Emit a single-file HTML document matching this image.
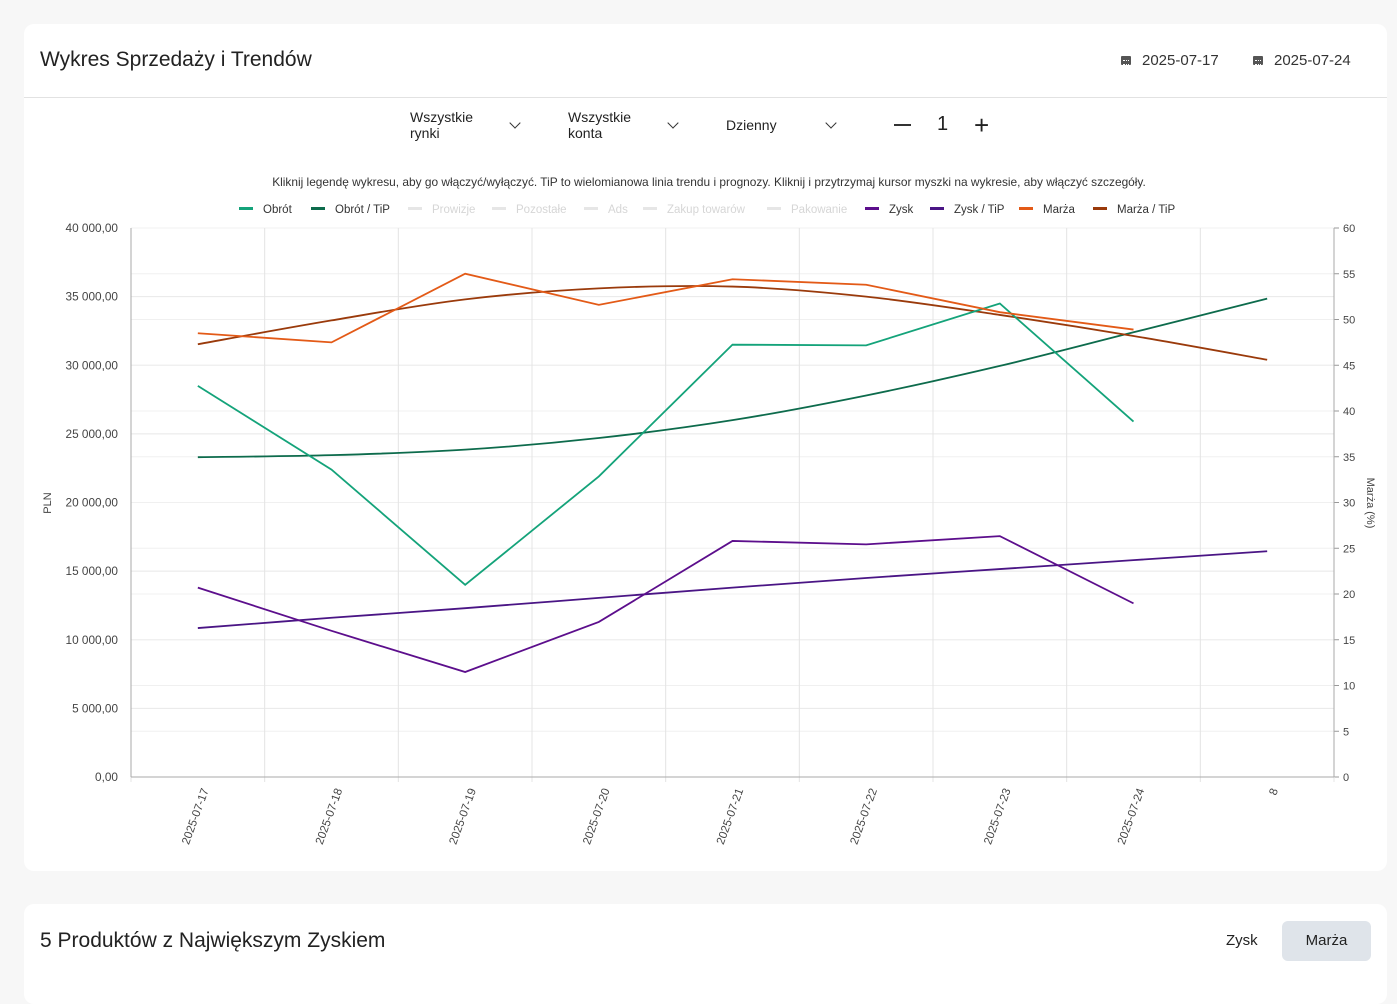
<!DOCTYPE html>
<html><head><meta charset="utf-8"><style>
body{margin:0;width:1397px;height:974px;background:#f7f7f7;font-family:"Liberation Sans",sans-serif;overflow:hidden;position:relative;color:#222}
.card{position:absolute;background:#fff;border-radius:10px}
.abs{position:absolute}
.ctl{position:absolute;font-size:14px;line-height:16px;color:#222}
.chev{position:absolute;width:7px;height:7px;border-right:1.8px solid #333;border-bottom:1.8px solid #333;transform:rotate(45deg)}
.cal{position:absolute;width:10px;height:9px;background:#555;border-radius:1px}
.cal:after{content:"";position:absolute;left:2px;top:4px;width:6px;height:3px;border-top:1px dotted #fff;border-bottom:1px dotted #fff}
</style></head><body>
<div class="card" style="left:24px;top:24px;width:1363px;height:847px">
  <div class="abs" style="left:16px;top:24px;font-size:21px">Wykres Sprzedaży i Trendów</div>
  <div class="cal" style="left:1097px;top:32px"></div>
  <div class="abs" style="left:1118px;top:28px;font-size:15px;color:#333">2025-07-17</div>
  <div class="cal" style="left:1229px;top:32px"></div>
  <div class="abs" style="left:1250px;top:28px;font-size:15px;color:#333">2025-07-24</div>
  <div class="abs" style="left:0;top:73px;width:1363px;height:1px;background:#e2e2e2"></div>
</div>
<div class="ctl" style="left:410px;top:109px">Wszystkie<br>rynki</div>
<div class="chev" style="left:511px;top:119px"></div>
<div class="ctl" style="left:568px;top:109px">Wszystkie<br>konta</div>
<div class="chev" style="left:669px;top:119px"></div>
<div class="ctl" style="left:726px;top:117px">Dzienny</div>
<div class="chev" style="left:827px;top:119px"></div>
<div class="abs" style="left:894px;top:124px;width:17px;height:2px;background:#333"></div>
<div class="abs" style="left:937px;top:113px;font-size:20px">1</div>
<div class="abs" style="left:974px;top:112px;font-size:26px;line-height:26px">+</div>

<svg class="abs" style="left:0;top:0" width="1397" height="974" font-family="Liberation Sans, sans-serif">
<text x="709" y="186" font-size="11.9" text-anchor="middle" fill="#333">Kliknij legendę wykresu, aby go włączyć/wyłączyć. TiP to wielomianowa linia trendu i prognozy. Kliknij i przytrzymaj kursor myszki na wykresie, aby włączyć szczegóły.</text>
<g id="legend"></g>
<g id="grid"></g>
<g id="series"></g>
<text transform="translate(51,503) rotate(-90)" font-size="11" text-anchor="middle" fill="#444">PLN</text>
<text transform="translate(1367,503) rotate(90)" font-size="11" text-anchor="middle" fill="#444">Marża (%)</text>
</svg>

<div class="card" style="left:24px;top:904px;width:1363px;height:100px">
  <div class="abs" style="left:16px;top:25px;font-size:21px">5 Produktów z Największym Zyskiem</div>
  <div class="abs" style="left:1202px;top:28px;font-size:15px">Zysk</div>
  <div class="abs" style="left:1258px;top:17px;width:89px;height:40px;background:#dfe4ea;border-radius:6px;font-size:15px;line-height:40px;text-align:center">Marża</div>
</div>

<script>
const categories=["2025-07-17","2025-07-18","2025-07-19","2025-07-20","2025-07-21","2025-07-22","2025-07-23","2025-07-24","8"];
const leftTicks=[0,5000,10000,15000,20000,25000,30000,35000,40000];
const leftTickLabels=["0,00","5 000,00","10 000,00","15 000,00","20 000,00","25 000,00","30 000,00","35 000,00","40 000,00"];
const rightTicks=[0,5,10,15,20,25,30,35,40,45,50,55,60];
const obrot=[28500,22400,14000,21900,31500,31450,34500,25900];
const obrotTip=[23300,23450,23850,24700,26000,27800,29950,32400,34850];
const zysk=[13800,10650,7650,11300,17200,16950,17550,12650];
const zyskTip=[10850,11600,12300,13050,13800,14500,15150,15800,16450];
const marza=[48.5,47.5,55.0,51.6,54.4,53.8,50.8,48.9];
const marzaTip=[47.3,49.9,52.2,53.4,53.6,52.5,50.5,48.2,45.6];
const legendNames=["Obrót","Obrót / TiP","Prowizje","Pozostałe","Ads","Zakup towarów","Pakowanie","Zysk","Zysk / TiP","Marża","Marża / TiP"];
const legendColors=["#14a37a","#0d6b4c","#e6e6e6","#e6e6e6","#e6e6e6","#e6e6e6","#e6e6e6","#5c0e8c","#4a1585","#e35a17","#9a3a0b"];
const legendX=[239,311,408,492,584,643,767,865,930,1019,1093];

const NS="http://www.w3.org/2000/svg";
const X0=131,X1=1334,Y0=777,Y1=228;
const band=(X1-X0)/categories.length;
const xs=i=>X0+band*(i+0.5);
const yL=v=>Y0-(v/40000)*(Y0-Y1);
const yR=v=>Y0-(v/60)*(Y0-Y1);
function mk(tag,attrs,parent){const e=document.createElementNS(NS,tag);for(const k in attrs)e.setAttribute(k,attrs[k]);parent.appendChild(e);return e;}
const grid=document.getElementById('grid'),series=document.getElementById('series'),legend=document.getElementById('legend');

leftTicks.forEach((t,i)=>{
  const y=yL(t);
  const l=mk('line',{x1:X0,x2:X1,y1:y,y2:y,stroke:'#e8e8e8'},grid);
  
  
  const tx=mk('text',{x:118,y:y+4,'font-size':11.8,'text-anchor':'end',fill:'#444'},grid);
  tx.textContent=leftTickLabels[i];
  
  
});
rightTicks.forEach(t=>{
  const y=yR(t);
  const l=mk('line',{x1:X0,x2:X1,y1:y,y2:y,stroke:'#f0f0f0'},grid);
  
  
  mk('line',{x1:X1,x2:X1+5,y1:y,y2:y,stroke:'#999'},grid);
  const tx=mk('text',{x:1343,y:y+4,'font-size':11,fill:'#444'},grid);
  tx.textContent=String(t);
  
  
});
for(let i=0;i<=categories.length;i++){
  const x=X0+band*i;
  mk('line',{x1:x,x2:x,y1:Y1,y2:Y0+5,stroke:'#e4e4e4'},grid);
}
mk('line',{x1:X0,x2:X0,y1:Y1,y2:Y0,stroke:'#aaa'},grid);
mk('line',{x1:X1,x2:X1,y1:Y1,y2:Y0,stroke:'#aaa'},grid);
mk('line',{x1:X0,x2:X1,y1:Y0,y2:Y0,stroke:'#aaa'},grid);
categories.forEach((c,i)=>{
  const x=xs(i);
  const tx=mk('text',{transform:`translate(${x+11},790) rotate(-70)`,'font-size':11.5,'text-anchor':'end',fill:'#444'},grid);
  tx.textContent=c;
  
  
});

function smooth(pts){let d=`M${pts[0][0]},${pts[0][1]}`;for(let i=0;i<pts.length-1;i++){const p0=pts[i-1]||pts[i],p1=pts[i],p2=pts[i+1],p3=pts[i+2]||p2;d+=` C${p1[0]+(p2[0]-p0[0])/6},${p1[1]+(p2[1]-p0[1])/6} ${p2[0]-(p3[0]-p1[0])/6},${p2[1]-(p3[1]-p1[1])/6} ${p2[0]},${p2[1]}`;}return d;}
function draw(vals,yf,color,name,curve){
  const pts=vals.map((v,i)=>[xs(i),yf(v)]);
  const d=curve?smooth(pts):'M'+pts.map(p=>p.join(',')).join(' L');
  const p=mk('path',{d:d,fill:'none',stroke:color,'stroke-width':1.8},series);
  
  
}
draw(obrotTip,yL,'#0d6b4c','obrot-trend-line',true);
draw(zyskTip,yL,'#4a1585','zysk-trend-line',true);
draw(marzaTip,yR,'#9a3a0b','marza-trend-line',true);
draw(obrot,yL,'#14a37a','obrot-line',false);
draw(zysk,yL,'#5c0e8c','zysk-line',false);
draw(marza,yR,'#e35a17','marza-line',false);

legendNames.forEach((n,i)=>{
  const g=mk('g',{},legend);
  
  
  mk('rect',{x:legendX[i],y:207,width:14,height:3,fill:legendColors[i]},g);
  const t=mk('text',{x:legendX[i]+24,y:213,'font-size':11.5,fill:i>=2&&i<=6?'#d6d6d6':'#333'},g);
  t.textContent=n;
});
</script>
</body></html>
